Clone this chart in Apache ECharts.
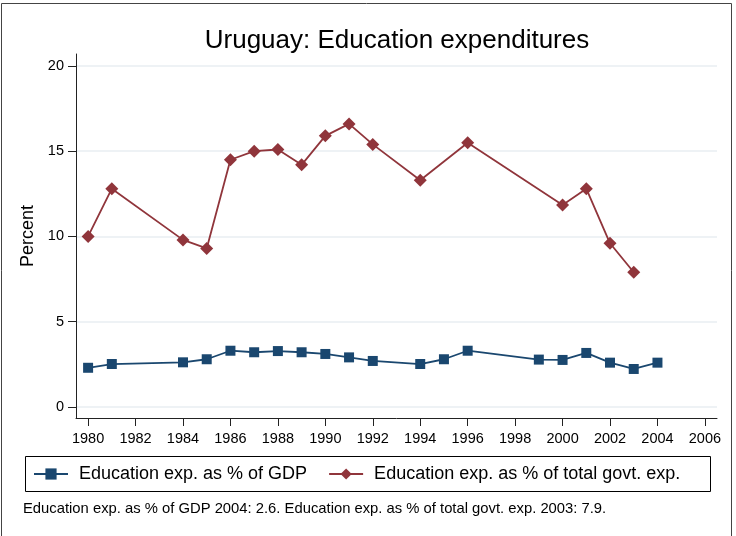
<!DOCTYPE html>
<html>
<head>
<meta charset="utf-8">
<script src="https://cdn.jsdelivr.net/npm/echarts@6/dist/echarts.min.js"></script>
<style>
  html, body { margin: 0; padding: 0; background: #fff; }
  #chart { width: 736px; height: 536px; }
</style>
</head>
<body>
<div id="chart"></div>
<script>
// data
const gdpYears = [1980, 1981, 1984, 1985, 1986, 1987, 1988, 1989, 1990, 1991, 1992, 1994, 1995, 1996, 1999, 2000, 2001, 2002, 2003, 2004]
const gdpValues = [2.3, 2.52, 2.62, 2.8, 3.3, 3.21, 3.28, 3.21, 3.11, 2.91, 2.7, 2.52, 2.8, 3.3, 2.78, 2.76, 3.17, 2.6, 2.23, 2.6]
const govYears = [1980, 1981, 1984, 1985, 1986, 1987, 1988, 1989, 1990, 1991, 1992, 1994, 1996, 2000, 2001, 2002, 2003]
const govValues = [10.0, 12.8, 9.8, 9.3, 14.5, 15.0, 15.1, 14.2, 15.9, 16.6, 15.4, 13.3, 15.5, 11.85, 12.8, 9.6, 7.9]
const xTicks = [1980, 1982, 1984, 1986, 1988, 1990, 1992, 1994, 1996, 1998, 2000, 2002, 2004, 2006]
const yTicks = [0, 5, 10, 15, 20]

const seriesNames = ['Education exp. as % of GDP', 'Education exp. as % of total govt. exp.']
const noteText = 'Education exp. as % of GDP 2004: 2.6. Education exp. as % of total govt. exp. 2003: 7.9.'

const font = 'Liberation Sans, Arial, sans-serif'
const chart = echarts.init(document.getElementById('chart'))

const option = {
  backgroundColor: '#fff',
  animation: false,
  title: {
    text: 'Uruguay: Education expenditures',
    left: 392,
    top: 23,
    textAlign: 'center',
    textStyle: { fontFamily: font, fontSize: 26, fontWeight: 'normal', color: '#000' }
  },
  grid: { left: 76, top: 54, right: 19, bottom: 118 },
  xAxis: {
    type: 'value',
    min: 1979.49,
    max: 2006.51,
    axisLine: { show: true, onZero: false, lineStyle: { color: '#222', width: 1 } },
    axisTick: { show: true, customValues: xTicks, length: 8, lineStyle: { color: '#222' } },
    axisLabel: {
      customValues: xTicks,
      formatter: v => String(v),
      color: '#000', fontFamily: font, fontSize: 14.5, margin: 13
    },
    splitLine: { show: false }
  },
  yAxis: {
    type: 'value',
    min: -0.645,
    max: 20.7,
    name: 'Percent',
    nameLocation: 'middle',
    nameGap: 28,
    nameTextStyle: { fontFamily: font, fontSize: 18, color: '#000' },
    axisLine: { show: true, onZero: false, lineStyle: { color: '#222', width: 1 } },
    axisTick: { show: true, customValues: yTicks, length: 8, lineStyle: { color: '#222' } },
    axisLabel: { customValues: yTicks, color: '#000', fontFamily: font, fontSize: 14.5, margin: 12 },
    splitLine: { show: true, customValues: yTicks, lineStyle: { color: '#e8eef2', width: 1.5 } }
  },
  legend: {
    left: 33,
    top: 465,
    padding: 0,
    itemWidth: 34,
    itemHeight: 14,
    itemGap: 21,
    textStyle: { fontFamily: font, fontSize: 18, color: '#000', padding: [0, 0, 0, 6] },
    data: seriesNames
  },
  graphic: [
    { type: 'rect', shape: { x: 1.5, y: 3.5, width: 730, height: 560 }, style: { fill: null, stroke: '#444', lineWidth: 1 }, silent: true },
    { type: 'rect', shape: { x: 25.5, y: 456.5, width: 685, height: 35 }, style: { fill: null, stroke: '#000', lineWidth: 1 }, silent: true },
    { type: 'text', left: 23, top: 501, style: { text: noteText, fontFamily: font, fontSize: 14.8, fill: '#000' } }
  ],
  series: [
    {
      name: seriesNames[0],
      type: 'line',
      data: gdpYears.map((y, i) => [y, gdpValues[i]]),
      symbol: 'rect',
      symbolSize: 10,
      itemStyle: { color: '#1a476f' },
      lineStyle: { color: '#1a476f', width: 1.8 },
      z: 3
    },
    {
      name: seriesNames[1],
      type: 'line',
      data: govYears.map((y, i) => [y, govValues[i]]),
      symbol: 'diamond',
      symbolSize: 13,
      itemStyle: { color: '#90353b' },
      lineStyle: { color: '#90353b', width: 1.8 },
      z: 3
    }
  ]
}

chart.setOption(option)
window.addEventListener('resize', () => {
  chart.resize()
})
</script>
</body>
</html>
